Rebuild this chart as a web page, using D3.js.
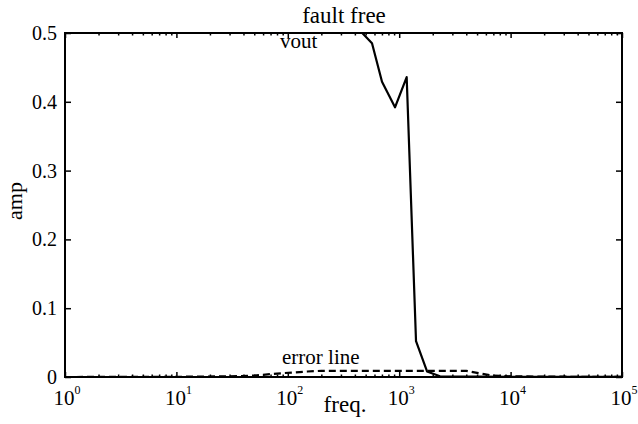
<!DOCTYPE html>
<html>
<head>
<meta charset="utf-8">
<script src="https://cdn.jsdelivr.net/npm/d3@7"></script>
<style>
html,body{margin:0;padding:0;background:#fff;}
svg{display:block;}
text{font-family:"Liberation Serif","Times New Roman",serif;fill:#000;}
</style>
</head>
<body>
<svg id="chart" width="638" height="424"></svg>
<script>
// ---- data ----
const voutFreq  = [1, 10, 100, 466, 570, 701, 917, 1167, 1416, 1778, 2323, 5000, 10000, 100000];
const voutAmp   = [0.5, 0.5, 0.5, 0.5, 0.485, 0.429, 0.392, 0.436, 0.052, 0.008, 0.001, 0.0005, 0.0003, 0.0003];
const errFreq   = [1, 10, 30, 50, 80, 150, 200, 500, 1000, 2000, 4000, 5000, 7000, 10000, 20000, 100000];
const errAmp    = [0, 0.0003, 0.001, 0.002, 0.005, 0.008, 0.009, 0.009, 0.009, 0.009, 0.009, 0.006, 0.002, 0.001, 0.0005, 0.0002];
const xTickExps = [0, 1, 2, 3, 4, 5];
const yTicks    = [0, 0.1, 0.2, 0.3, 0.4, 0.5];
const yTickLabels = ["0", "0.1", "0.2", "0.3", "0.4", "0.5"];

const svg = d3.select("#chart");
const L = 65, R = 622, T = 33, B = 377;

const x = d3.scaleLog().domain([1, 1e5]).range([L, R]);
const y = d3.scaleLinear().domain([0, 0.5]).range([B, T]);

// lines
const line = d3.line().x(d => x(d[0])).y(d => y(d[1]));
svg.append("path")
  .datum(errFreq.map((f, i) => [f, errAmp[i]]))
  .attr("d", line).attr("fill", "none").attr("stroke", "#000")
  .attr("stroke-width", 2.2).attr("stroke-dasharray", "7,4");
svg.append("path")
  .datum(voutFreq.map((f, i) => [f, voutAmp[i]]))
  .attr("d", line).attr("fill", "none").attr("stroke", "#000")
  .attr("stroke-width", 2.2).attr("stroke-linejoin", "round");

// minor/major x ticks (inward, top & bottom)
const minor = [];
for (let e = 0; e < 5; e++) for (let m = 2; m <= 9; m++) minor.push(m * Math.pow(10, e));
const xMajor = xTickExps.map(e => Math.pow(10, e));

const axB = svg.append("g").attr("transform", `translate(0,${B})`)
  .call(d3.axisBottom(x).tickValues(minor).tickSizeInner(-2.5).tickSizeOuter(0).tickFormat(""));
const axB2 = svg.append("g").attr("transform", `translate(0,${B})`)
  .call(d3.axisBottom(x).tickValues(xMajor).tickSizeInner(-5).tickSizeOuter(0).tickFormat(""));
const axT = svg.append("g").attr("transform", `translate(0,${T})`)
  .call(d3.axisTop(x).tickValues(minor).tickSizeInner(-2.5).tickSizeOuter(0).tickFormat(""));
const axT2 = svg.append("g").attr("transform", `translate(0,${T})`)
  .call(d3.axisTop(x).tickValues(xMajor).tickSizeInner(-5).tickSizeOuter(0).tickFormat(""));
const axL = svg.append("g").attr("transform", `translate(${L},0)`)
  .call(d3.axisLeft(y).tickValues(yTicks).tickSizeInner(-6).tickSizeOuter(0)
    .tickFormat((d, i) => yTickLabels[i]));
const axR = svg.append("g").attr("transform", `translate(${R},0)`)
  .call(d3.axisRight(y).tickValues(yTicks).tickSizeInner(-6).tickSizeOuter(0).tickFormat(""));

[axB, axB2, axT, axT2, axL, axR].forEach(g => {
  g.select(".domain").remove();
  g.selectAll(".tick line").attr("stroke", "#000").attr("stroke-width", 1.5);
});
axL.selectAll(".tick text")
  .attr("x", -8).attr("dy", "0.32em")
  .style("font-family", '"Liberation Serif", serif').style("font-size", "20px").attr("fill", "#000");

// box
svg.append("rect").attr("x", L).attr("y", T).attr("width", R - L).attr("height", B - T)
  .attr("fill", "none").attr("stroke", "#000").attr("stroke-width", 2);

// x tick labels 10^n
const xl = svg.append("g");
xTickExps.forEach(e => {
  const t = xl.append("text").attr("x", x(Math.pow(10, e)) + 2).attr("y", 405)
    .attr("text-anchor", "middle").style("font-size", "21px");
  t.append("tspan").text("10");
  t.append("tspan").attr("dy", -11).style("font-size", "12px").text(String(e));
});

// labels
svg.append("text").attr("x", 344).attr("y", 23).attr("text-anchor", "middle")
  .style("font-size", "23px").text("fault free");
svg.append("text").attr("x", 345).attr("y", 412).attr("text-anchor", "middle")
  .style("font-size", "23px").text("freq.");
svg.append("text").attr("transform", "translate(22,201) rotate(-90)").attr("text-anchor", "middle")
  .style("font-size", "22px").text("amp");
svg.append("text").attr("x", 280).attr("y", 48).style("font-size", "21px").text("vout");
svg.append("text").attr("x", 282).attr("y", 364).style("font-size", "21px").text("error line");
</script>
</body>
</html>
